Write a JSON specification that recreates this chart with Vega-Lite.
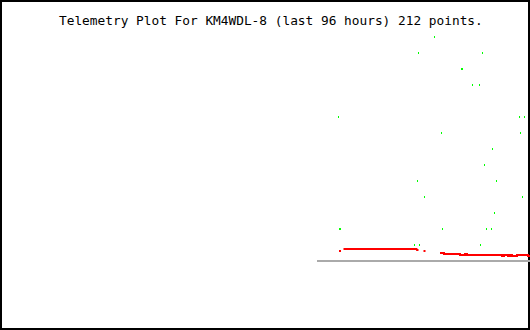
{
  "$schema": "https://vega.github.io/schema/vega-lite/v6.json",
  "width": 530,
  "height": 330,
  "padding": 0,
  "autosize": {"type": "none"},
  "background": "white",
  "config": {"view": {"stroke": "black", "strokeWidth": 4}},
  "title": {
    "text": "Telemetry Plot For KM4WDL-8 (last 96 hours) 212 points.",
    "font": "DejaVu Sans Mono",
    "fontSize": 12.8,
    "fontWeight": "normal",
    "color": "black",
    "anchor": "start",
    "frame": "group",
    "dx": 59,
    "offset": -38,
    "baseline": "alphabetic"
  },
  "datasets": {
    "green": [
      {"x": 434.5, "y": 293}, {"x": 418.5, "y": 277}, {"x": 482.5, "y": 277},
      {"x": 461.5, "y": 261}, {"x": 462.5, "y": 261},
      {"x": 472.5, "y": 245}, {"x": 479.5, "y": 245},
      {"x": 338.5, "y": 213}, {"x": 519.5, "y": 213}, {"x": 524.5, "y": 213},
      {"x": 441.5, "y": 197}, {"x": 520.5, "y": 197},
      {"x": 492.5, "y": 181},
      {"x": 484.5, "y": 165},
      {"x": 417.5, "y": 149}, {"x": 496.5, "y": 149},
      {"x": 424.5, "y": 133}, {"x": 522.5, "y": 133},
      {"x": 494.5, "y": 117},
      {"x": 339.5, "y": 101}, {"x": 340.5, "y": 101}, {"x": 442.5, "y": 101}, {"x": 486.5, "y": 101}, {"x": 491.5, "y": 101},
      {"x": 414.5, "y": 85}, {"x": 419.5, "y": 85}, {"x": 480.5, "y": 85}
    ],
    "redDots": [
      {"x": 340, "y": 79}, {"x": 424.5, "y": 79}
    ],
    "redLine": [
      {"seg": "A", "i": 1, "x": 343.5, "y": 81}, {"seg": "A", "i": 2, "x": 416.5, "y": 81},
      {"seg": "A", "i": 3, "x": 417, "y": 80}, {"seg": "A", "i": 4, "x": 418.5, "y": 80},
      {"seg": "B", "i": 1, "x": 440, "y": 77}, {"seg": "B", "i": 2, "x": 444, "y": 77},
      {"seg": "B", "i": 3, "x": 444, "y": 76}, {"seg": "B", "i": 4, "x": 460, "y": 76},
      {"seg": "B", "i": 5, "x": 460, "y": 75}, {"seg": "B", "i": 6, "x": 465, "y": 75},
      {"seg": "B", "i": 7, "x": 465, "y": 76}, {"seg": "B", "i": 8, "x": 467, "y": 76},
      {"seg": "B", "i": 9, "x": 467, "y": 75}, {"seg": "B", "i": 10, "x": 502, "y": 75},
      {"seg": "B", "i": 11, "x": 502, "y": 74}, {"seg": "B", "i": 12, "x": 504, "y": 74},
      {"seg": "B", "i": 13, "x": 504, "y": 75}, {"seg": "B", "i": 14, "x": 508, "y": 75},
      {"seg": "B", "i": 15, "x": 508, "y": 74}, {"seg": "B", "i": 16, "x": 510, "y": 74},
      {"seg": "B", "i": 17, "x": 510, "y": 75}, {"seg": "B", "i": 18, "x": 512, "y": 75},
      {"seg": "B", "i": 19, "x": 512, "y": 74}, {"seg": "B", "i": 20, "x": 517, "y": 74},
      {"seg": "B", "i": 21, "x": 517, "y": 75}, {"seg": "B", "i": 22, "x": 528, "y": 75},
      {"seg": "B", "i": 23, "x": 528, "y": 74}, {"seg": "B", "i": 24, "x": 530, "y": 74}
    ],
    "baseline": [
      {"x": 317, "x2": 530, "y": 69}
    ]
  },
  "layer": [
    {
      "data": {"name": "baseline"},
      "mark": {"type": "rule", "color": "#aaaaaa", "strokeWidth": 2},
      "encoding": {
        "x": {"field": "x", "type": "quantitative", "scale": {"domain": [0, 530], "nice": false, "zero": false}, "axis": null},
        "x2": {"field": "x2"},
        "y": {"field": "y", "type": "quantitative", "scale": {"domain": [0, 330], "nice": false, "zero": false}, "axis": null}
      }
    },
    {
      "data": {"name": "redLine"},
      "mark": {"type": "line", "color": "#ff0000", "strokeWidth": 2, "strokeCap": "butt", "strokeJoin": "miter"},
      "encoding": {
        "x": {"field": "x", "type": "quantitative", "scale": {"domain": [0, 530], "nice": false, "zero": false}, "axis": null},
        "y": {"field": "y", "type": "quantitative", "scale": {"domain": [0, 330], "nice": false, "zero": false}, "axis": null},
        "detail": {"field": "seg"},
        "order": {"field": "i", "type": "quantitative"}
      }
    },
    {
      "data": {"name": "redDots"},
      "mark": {"type": "point", "shape": "M-1,-1H1V1H-1Z", "size": 4, "filled": true, "color": "#ff0000", "opacity": 1, "strokeWidth": 0},
      "encoding": {
        "x": {"field": "x", "type": "quantitative", "scale": {"domain": [0, 530], "nice": false, "zero": false}, "axis": null},
        "y": {"field": "y", "type": "quantitative", "scale": {"domain": [0, 330], "nice": false, "zero": false}, "axis": null}
      }
    },
    {
      "data": {"name": "green"},
      "mark": {"type": "point", "shape": "M-0.5,-1H0.5V1H-0.5Z", "size": 4, "filled": true, "color": "#00ff00", "opacity": 1, "strokeWidth": 0},
      "encoding": {
        "x": {"field": "x", "type": "quantitative", "scale": {"domain": [0, 530], "nice": false, "zero": false}, "axis": null},
        "y": {"field": "y", "type": "quantitative", "scale": {"domain": [0, 330], "nice": false, "zero": false}, "axis": null}
      }
    }
  ]
}
